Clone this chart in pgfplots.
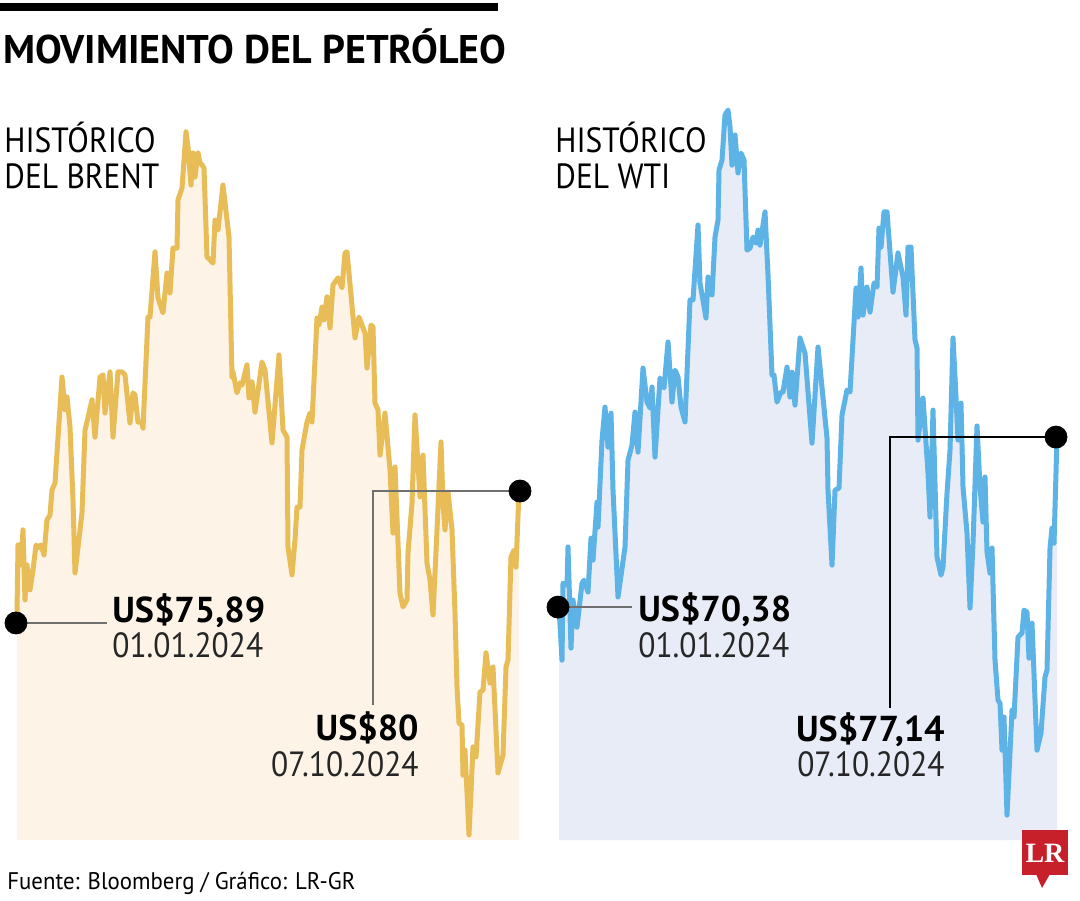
\documentclass[border=0pt]{standalone}
\usepackage{pgfplots}
\pgfplotsset{compat=1.18}
\usepackage{pgfplotstable}
\usepackage{fontspec}
\setmainfont{PT Sans}
\newfontfamily\narrowfont{PT Sans}[FakeStretch=0.9]
\newfontfamily\footfont{PT Sans}[FakeStretch=0.95]
\newfontfamily\lrfont{Liberation Serif}
\definecolor{brentline}{HTML}{E8BD57}
\definecolor{brentfill}{HTML}{FDF4E7}
\definecolor{wtiline}{HTML}{5DB3E6}
\definecolor{wtifill}{HTML}{E8ECF6}
\definecolor{lrred}{HTML}{C8202A}
\definecolor{conn}{HTML}{707070}

\pgfplotstableread{
x y
0 76.20
1 78.32
3 78.32
4 77.70
6 78.79
8 76.61
10 77.70
13 76.92
16 77.54
19 78.32
21 78.23
24 78.32
27 78.01
30 79.10
33 79.25
35 80.03
38 80.25
45 83.55
48 82.53
50 82.93
53 82.00
56 79.72
58 77.45
65 79.32
68 81.90
71 82.28
75 82.84
78 81.68
83 83.55
86 83.62
88 82.43
93 83.71
96 81.68
101 83.71
105 83.71
108 83.62
113 82.12
116 83.06
118 82.99
121 82.15
125 82.15
126 81.96
131 85.42
133 85.42
138 87.45
141 86.01
146 85.55
150 86.79
153 86.17
156 87.57
160 87.57
161 89.07
165 89.44
169 91.19
171 90.72
174 89.53
176 90.53
178 89.78
181 90.53
183 90.22
185 90.16
187 90.06
190 87.29
193 87.20
196 87.10
198 88.44
201 88.13
206 89.53
212 87.91
215 83.55
216 83.71
220 83.06
223 83.37
225 83.30
230 83.93
232 82.90
235 83.40
238 82.46
245 84.02
248 83.77
255 81.50
262 84.24
266 81.90
270 81.68
271 78.26
275 77.39
278 78.48
280 79.50
283 79.50
285 81.28
290 82.15
293 82.43
295 82.15
300 85.39
302 85.17
305 85.73
307 85.33
310 86.05
313 85.08
316 86.42
321 86.64
325 86.33
328 87.42
330 87.45
338 84.77
342 85.42
348 84.92
350 83.83
354 85.17
356 85.11
358 82.74
361 82.53
363 81.12
368 82.43
373 80.66
376 78.69
378 80.75
383 76.82
386 76.39
390 76.61
391 78.07
395 79.63
398 82.37
403 79.82
406 81.12
410 77.76
413 77.23
416 76.14
420 78.79
424 81.53
426 79.63
428 78.79
431 79.97
435 78.79
438 76.20
440 73.90
442 72.77
445 72.71
446 71.15
448 71.93
452 69.29
456 72.03
459 71.72
463 73.74
466 73.80
469 74.96
473 74.02
476 74.52
481 71.22
486 71.78
489 74.52
491 74.74
494 77.95
497 78.16
499 77.63
502 80.00
}\brent

\pgfplotstableread{
x y
0 70.38
3 68.27
4 71.33
8 71.25
9 72.77
12 68.75
14 70.66
18 69.58
23 71.33
25 71.45
29 70.98
32 73.12
34 72.25
38 74.55
39 73.56
43 77.02
46 78.33
49 76.74
52 78.09
54 75.03
59 70.78
66 72.77
69 76.22
73 76.82
76 78.13
79 76.54
84 79.88
88 78.53
91 78.29
93 79.13
96 76.34
101 79.49
105 79.09
109 80.92
113 78.53
116 79.80
119 79.53
122 78.33
126 77.74
131 82.59
134 82.59
139 85.57
141 83.26
147 81.87
149 83.50
153 82.79
156 85.09
159 85.77
160 87.76
163 88.15
166 89.94
169 90.14
171 89.47
173 87.95
176 89.15
179 87.64
182 88.43
185 88.15
188 84.57
191 84.65
194 85.09
197 84.85
199 85.37
201 84.77
206 86.09
209 83.58
213 79.60
215 79.60
218 78.53
222 78.93
224 78.93
228 79.92
231 78.73
233 79.72
236 78.41
241 81.08
246 80.48
253 76.90
259 80.72
268 77.10
269 75.03
273 72.05
276 75.03
280 75.11
283 78.01
288 79.01
291 78.93
297 83.06
299 81.91
302 83.86
304 81.99
308 83.10
311 82.11
315 83.26
318 83.10
320 85.45
322 84.69
325 86.09
328 86.09
334 82.90
339 84.46
344 83.50
347 81.99
349 84.69
352 84.69
356 81.00
358 80.68
359 77.02
364 78.69
369 75.71
371 73.96
374 78.21
378 72.37
382 71.65
384 71.97
388 74.91
391 76.62
394 81.08
397 78.73
399 77.02
402 78.49
404 75.15
408 73.32
411 70.34
414 72.92
418 77.58
421 75.15
424 73.76
426 75.55
428 72.57
431 71.73
433 72.73
436 68.27
439 66.68
441 66.56
443 64.69
445 66.01
448 62.11
453 66.28
455 66.01
459 69.19
463 69.35
465 70.26
468 70.18
470 68.35
473 69.74
478 64.69
482 65.37
486 67.60
488 67.88
491 72.73
493 73.52
495 72.92
498 77.14
}\wti

\begin{document}
\begin{tikzpicture}[x=0.5pt,y=-0.5pt]
\useasboundingbox (0,0) rectangle (1080,900);
\fill[white] (0,0) rectangle (1080,900);

% title bar and title
\fill[black] (0,3) rectangle (498,11);
\node[anchor=base west, inner sep=0pt, font=\bfseries\fontsize{20}{24}\selectfont] at (3,63) {MOVIMIENTO DEL PETRÓLEO};

% Brent
\begin{axis}[at={(8.5pt,-420pt)}, anchor=south west, scale only axis,
  width=251pt, height=370pt, xmin=0, xmax=502, ymin=69.13, ymax=92.18,
  hide axis, clip=false]
\addplot[draw=none, fill=brentfill] table {\brent} -- (axis cs:502,69.13) -- (axis cs:0,69.13) -- cycle;
\addplot[brentline, line width=2.5pt, line join=round] table {\brent};
\draw[conn, line width=0.6pt] (axis cs:0,75.89) -- (axis cs:90,75.89);
\draw[conn, line width=0.6pt] (axis cs:502,80) -- (axis cs:356,80) -- (axis cs:356,73.34);
\addplot[only marks, mark=*, mark size=5.5pt, black] coordinates {(-1,75.89) (503,80)};
\end{axis}

% WTI
\begin{axis}[at={(279.5pt,-420pt)}, anchor=south west, scale only axis,
  width=249pt, height=370pt, xmin=0, xmax=498, ymin=61.12, ymax=90.54,
  hide axis, clip=false]
\addplot[draw=none, fill=wtifill] table {\wti} -- (axis cs:498,61.12) -- (axis cs:0,61.12) -- cycle;
\addplot[wtiline, line width=2.5pt, line join=round] table {\wti};
\draw[conn, line width=0.6pt] (axis cs:0,70.38) -- (axis cs:73,70.38);
\draw[black, line width=0.6pt] (axis cs:498,77.14) -- (axis cs:331,77.14) -- (axis cs:331,66.37);
\addplot[only marks, mark=*, mark size=5.5pt, black] coordinates {(-1,70.38) (497,77.14)};
\end{axis}

% panel titles
\node[anchor=base west, inner sep=0pt, font=\narrowfont\fontsize{17.5}{20}\selectfont] at (4,152) {HISTÓRICO};
\node[anchor=base west, inner sep=0pt, font=\narrowfont\fontsize{17.5}{20}\selectfont] at (4,188) {DEL BRENT};
\node[anchor=base west, inner sep=0pt, font=\narrowfont\fontsize{17.5}{20}\selectfont] at (555,152) {HISTÓRICO};
\node[anchor=base west, inner sep=0pt, font=\narrowfont\fontsize{17.5}{20}\selectfont] at (555,188) {DEL WTI};

% annotations
\node[anchor=base west, inner sep=0pt, font=\bfseries\fontsize{18}{20}\selectfont] at (112,622) {US\$75,89};
\node[anchor=base west, inner sep=0pt, font=\narrowfont\fontsize{17.5}{20}\selectfont, text=black!85] at (112,657) {01.01.2024};
\node[anchor=base east, inner sep=0pt, font=\bfseries\fontsize{18}{20}\selectfont] at (419,740) {US\$80};
\node[anchor=base east, inner sep=0pt, font=\narrowfont\fontsize{17.5}{20}\selectfont, text=black!85] at (419,776) {07.10.2024};
\node[anchor=base west, inner sep=0pt, font=\bfseries\fontsize{18}{20}\selectfont] at (638,621) {US\$70,38};
\node[anchor=base west, inner sep=0pt, font=\narrowfont\fontsize{17.5}{20}\selectfont, text=black!85] at (638,657) {01.01.2024};
\node[anchor=base east, inner sep=0pt, font=\bfseries\fontsize{18}{20}\selectfont] at (945,741) {US\$77,14};
\node[anchor=base east, inner sep=0pt, font=\narrowfont\fontsize{17.5}{20}\selectfont, text=black!85] at (945,776) {07.10.2024};

% footer
\node[anchor=base west, inner sep=0pt, font=\footfont\fontsize{12}{14}\selectfont] at (7,889) {Fuente: Bloomberg / Gráfico: LR-GR};

% logo
\fill[lrred] (1022,830) rectangle (1068,875);
\fill[lrred] (1036,874) -- (1050,874) -- (1042,888) -- cycle;
\node[inner sep=0pt, text=white, font=\lrfont\bfseries\fontsize{14}{16}\selectfont] at (1045,853) {LR};
\end{tikzpicture}
\end{document}
